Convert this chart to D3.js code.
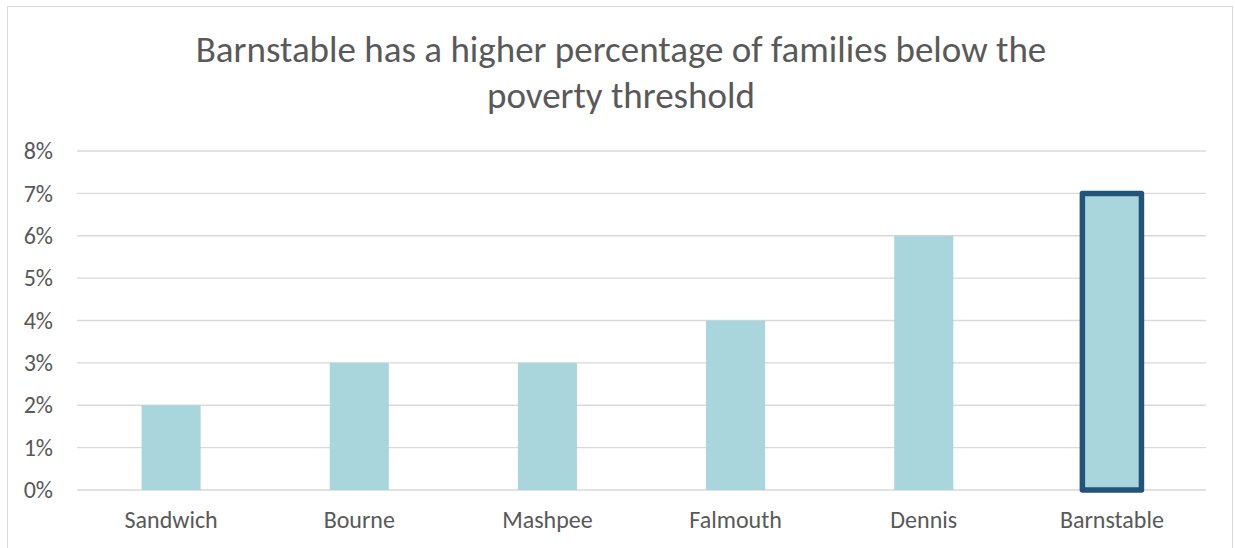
<!DOCTYPE html>
<html><head><meta charset="utf-8">
<script src="https://cdn.jsdelivr.net/npm/d3@7"></script>
<style>html,body{margin:0;padding:0;background:#fff;}</style>
</head><body>
<svg id="c" width="1235" height="548"></svg>
<script>
const categories = ["Sandwich","Bourne","Mashpee","Falmouth","Dennis","Barnstable"];
const values = [0.02,0.03,0.03,0.04,0.06,0.07];
const highlighted = ["Barnstable"];
const yTicks = [0,0.01,0.02,0.03,0.04,0.05,0.06,0.07,0.08];
const titleLines = ["Barnstable has a higher percentage of families below the","poverty threshold"];

(function(){
const svg = d3.select("#c");
const font = "Calibri, Carlito, 'Open Sans', sans-serif";
svg.append("rect").attr("x",7.5).attr("y",6.5).attr("width",1225).attr("height",560)
  .attr("fill","#fff").attr("stroke","#d9d9d9").attr("stroke-width",1);

const pLeft=77, pRight=1206, pTop=151, pBottom=490;
const x = d3.scaleBand().domain(categories).range([pLeft,pRight]).paddingInner(0.686).paddingOuter(0.343);
const y = d3.scaleLinear().domain([0,0.08]).range([pBottom,pTop]);

const grid = svg.append("g");
grid.selectAll("line").data(yTicks).join("line")
  .attr("x1",pLeft).attr("x2",pRight).attr("y1",d=>y(d)).attr("y2",d=>y(d))
  .attr("stroke","#d9d9d9").attr("stroke-width",1.3);

const yAxis = svg.append("g").attr("transform",`translate(${pLeft},0)`)
  .call(d3.axisLeft(y).tickValues(yTicks).tickFormat(d3.format(".0%")).tickSize(0).tickPadding(24));
yAxis.select(".domain").remove();
yAxis.selectAll("text").attr("font-family",font).attr("font-size",24).attr("fill","#595959");

svg.append("g").selectAll("rect").data(categories).join("rect")
  .attr("x",d=>x(d)).attr("width",x.bandwidth())
  .attr("y",(d,i)=>y(values[i])).attr("height",(d,i)=>y(0)-y(values[i]))
  .attr("fill","#a9d5dc")
  .attr("stroke",d=>highlighted.includes(d)?"#235379":"none")
  .attr("stroke-width",5.5).attr("stroke-linejoin","round");

const xAxis = svg.append("g").attr("transform",`translate(0,${pBottom})`)
  .call(d3.axisBottom(x).tickSize(0).tickPadding(21));
xAxis.select(".domain").remove();
xAxis.selectAll("text").attr("font-family",font).attr("font-size",24).attr("fill","#595959");

svg.append("g").selectAll("text").data(titleLines).join("text")
  .attr("x",621).attr("y",(d,i)=>62+i*46).attr("text-anchor","middle")
  .attr("font-family",font).attr("font-size",37).attr("fill","#595959").text(d=>d);
})();
</script>
</body></html>
